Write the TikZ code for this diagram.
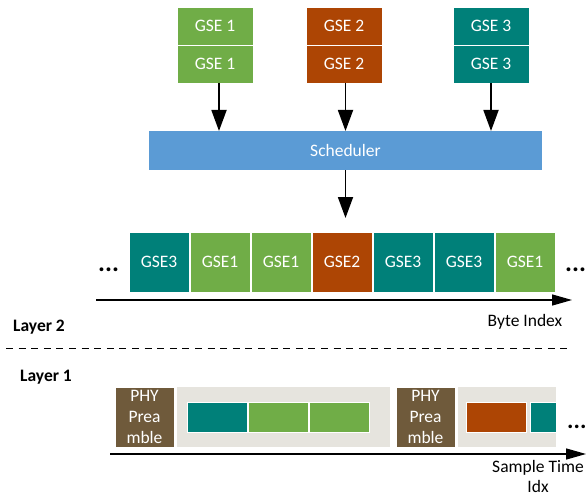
\documentclass[tikz,border=0pt]{standalone}
\usepackage{fontspec}
\setmainfont{Carlito}
\usetikzlibrary{arrows.meta,calc}
\definecolor{cgreen}{HTML}{70AD47}
\definecolor{cbrown}{HTML}{AD4504}
\definecolor{cteal}{HTML}{008079}
\definecolor{cblue}{HTML}{5B9BD5}
\definecolor{cphy}{HTML}{6F5A3B}
\definecolor{cgrey}{HTML}{E6E4DE}
\tikzset{
  blk/.style={draw=white, line width=0.8pt, inner sep=0pt, outer sep=0pt, anchor=north west,
    text=white, font=\fontsize{17.5}{20}\selectfont},
  topbox/.style={blk, minimum width=76pt, minimum height=38pt},
  rowbox/.style={blk, minimum width=60pt, minimum height=60pt},
  inbox/.style={blk, minimum height=30pt},
  phybox/.style={blk, fill=cphy, minimum width=59pt, minimum height=60pt, align=center,
    font=\fontsize{17.5}{21}\selectfont},
  greybox/.style={inner sep=0pt, outer sep=0pt, anchor=north west, fill=cgrey, minimum height=60pt},
  varr/.style={line width=1.8pt, -{Triangle[length=21pt,width=15pt]}},
  axis/.style={line width=1.3pt, -{Triangle[length=20pt,width=11pt]}},
  dotsl/.style={anchor=base west, inner sep=0pt, font=\fontsize{26}{26}\bfseries\selectfont},
  layerlbl/.style={anchor=west, inner sep=0pt, font=\fontsize{17.5}{20}\bfseries\selectfont},
  axlbl/.style={inner sep=0pt, align=center, font=\fontsize{17.5}{20}\selectfont},
}
\begin{document}
\begin{tikzpicture}[x=1pt,y=-1pt]
\useasboundingbox (0,0) rectangle (587,495);

% top GSE boxes
\node[topbox, fill=cgreen] (g1a) at (177,7) {GSE 1};
\node[topbox, fill=cgreen] (g1b) at (177,45) {GSE 1};
\node[topbox, fill=cbrown] (g2a) at (306,7) {GSE 2};
\node[topbox, fill=cbrown] (g2b) at (306,45) {GSE 2};
\node[topbox, fill=cteal] (g3a) at (453,7) {GSE 3};
\node[topbox, fill=cteal] (g3b) at (453,45) {GSE 3};

% scheduler
\node[blk, draw=none, fill=cblue, minimum width=393pt, minimum height=39pt] (sched) at (149,131) {Scheduler};

\draw[varr] ([xshift=4pt]g1b.south) -- ([xshift=4pt]g1b.south |- sched.north);
\draw[varr] ([xshift=1.5pt]g2b.south) -- ([xshift=1.5pt]g2b.south |- sched.north);
\draw[varr] (g3b.south) -- (g3b.south |- sched.north);

% row of GSE frames
\node[rowbox, fill=cteal]  (r1) at (129,232) {GSE3};
\node[rowbox, fill=cgreen] (r2) at (190,232) {GSE1};
\node[rowbox, fill=cgreen] (r3) at (251,232) {GSE1};
\node[rowbox, fill=cbrown] (r4) at (312,232) {GSE2};
\node[rowbox, fill=cteal]  (r5) at (373,232) {GSE3};
\node[rowbox, fill=cteal]  (r6) at (434,232) {GSE3};
\node[rowbox, fill=cgreen] (r7) at (495,232) {GSE1};

\draw[varr] (sched.south) -- ($(sched.south |- r4.north)+(0,-14)$);

\node[dotsl] (dl) at (98,271) {...};
\node[dotsl] (dr) at (565,271) {...};

\coordinate (a1s) at (96,300);
\coordinate (a1e) at (572,300);
\draw[axis] (a1s) -- (a1e);
\node[axlbl] (bidx) at (525,322) {Byte Index};

\node[layerlbl] (l2) at (13,327) {Layer 2};
\coordinate (ds) at (6,348);
\coordinate (de) at (572,348);
\draw[line width=1pt, dash pattern=on 7pt off 5.6pt] (ds) -- (de);
\node[layerlbl] (l1) at (20,377) {Layer 1};

% layer 1
\node[phybox] (p1) at (115,387) {PHY\\Prea\\mble};
\node[greybox, minimum width=213pt] (gb1) at (177,387) {};
\node[inbox, fill=cteal,  minimum width=60pt] (i1) at (187,402) {};
\node[inbox, fill=cgreen, minimum width=60pt] (i2) at (248,402) {};
\node[inbox, fill=cgreen, minimum width=60pt] (i3) at (309,402) {};
\node[phybox] (p2) at (396,387) {PHY\\Prea\\mble};
\node[greybox, minimum width=98pt] (gb2) at (458,387) {};
\node[inbox, fill=cbrown, minimum width=60pt] (i4) at (466,402) {};
\node[inbox, fill=cteal,  minimum width=26pt] (i5) at (530,402) {};
\node[dotsl, font=\fontsize{24}{24}\bfseries\selectfont] (dr2) at (567,428) {...};

\coordinate (a2s) at (110,454);
\coordinate (a2e) at (586,454);
\draw[axis] (a2s) -- (a2e);
\node[axlbl] (sidx) at (538,476) {Sample Time\\Idx};
\end{tikzpicture}
\end{document}
